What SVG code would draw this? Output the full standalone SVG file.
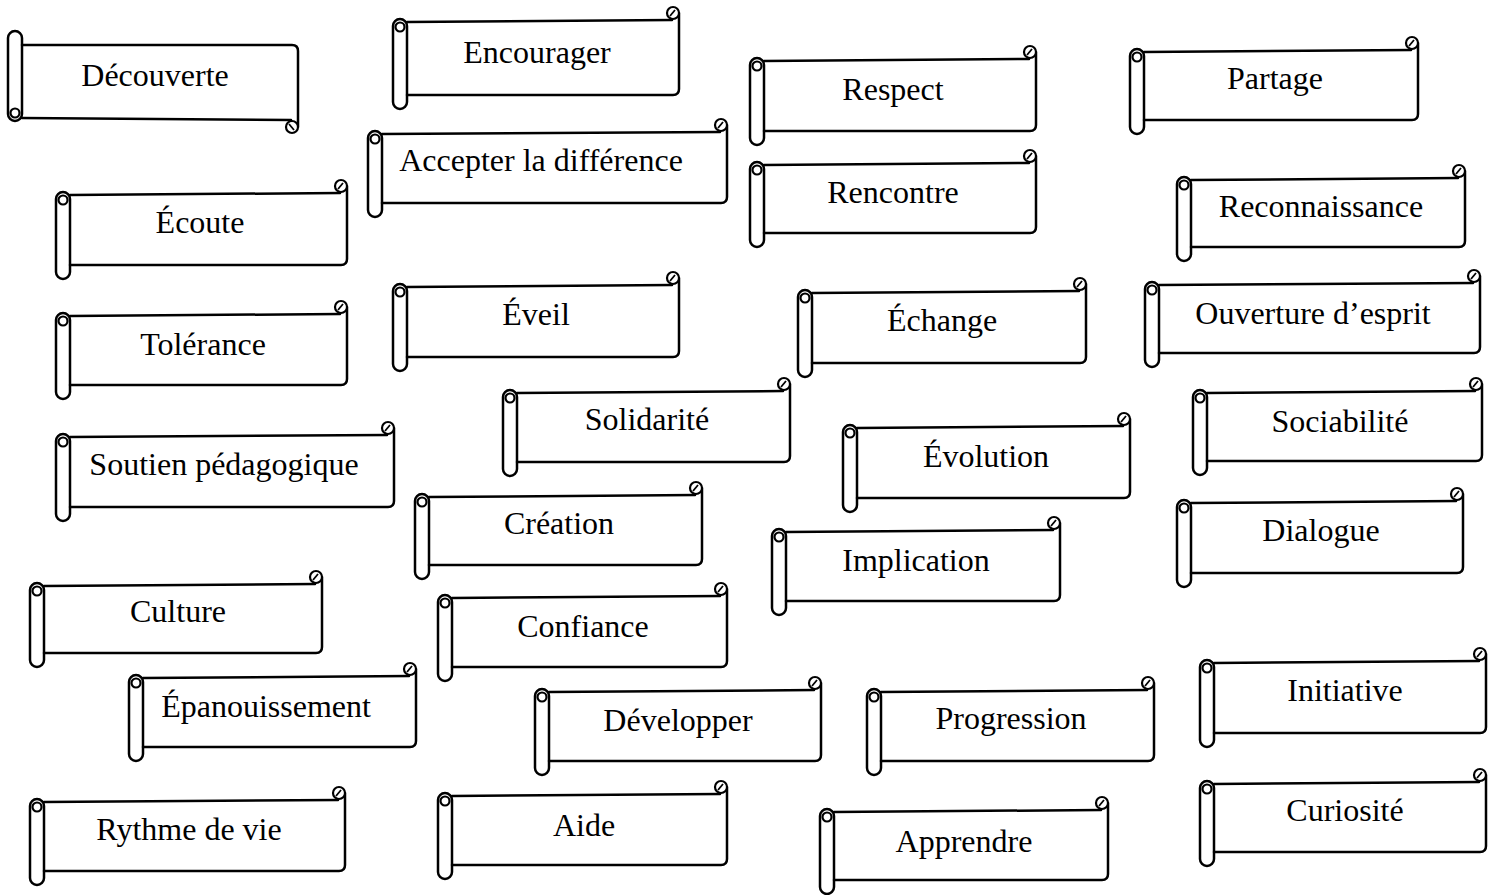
<svg xmlns="http://www.w3.org/2000/svg" width="1498" height="895" viewBox="0 0 1498 895">
<style>
.t{fill:#fff;stroke:#000;stroke-width:2.5}
.c{fill:#fff;stroke:#000;stroke-width:2.2}
.s{fill:none;stroke:#000;stroke-width:2.5;stroke-linecap:round;stroke-linejoin:round}
.k{fill:none;stroke:#000;stroke-width:1.8}
text{font-family:"Liberation Serif","Times New Roman",serif;font-size:32px;fill:#000;text-anchor:middle}
</style>
<rect width="1498" height="895" fill="#fff"/>
<g id="connectors"/>
<g id="n-decouverte"><g transform="translate(8,118) scale(1,-1)"><rect class="t" x="0" y="-3" width="14" height="90" rx="7"/><circle class="c" cx="7" cy="5" r="4.5"/><path class="s" d="M14,0 L283,-2 M290,-9 V67 Q290,73 284,73 H14"/><circle class="c" cx="284" cy="-9" r="6"/><path class="k" d="M281,-6 L286,-12"/></g><text x="155" y="86">Découverte</text></g>
<g id="n-encourager"><g transform="translate(393,22)"><rect class="t" x="0" y="-3" width="14" height="90" rx="7"/><circle class="c" cx="7" cy="5" r="4.5"/><path class="s" d="M14,0 L279,-2 M286,-9 V67 Q286,73 280,73 H14"/><circle class="c" cx="280" cy="-9" r="6"/><path class="k" d="M277,-6 L282,-12"/></g><text x="537" y="63">Encourager</text></g>
<g id="n-respect"><g transform="translate(750,61)"><rect class="t" x="0" y="-3" width="14" height="87" rx="7"/><circle class="c" cx="7" cy="5" r="4.5"/><path class="s" d="M14,0 L279,-2 M286,-9 V64 Q286,70 280,70 H14"/><circle class="c" cx="280" cy="-9" r="6"/><path class="k" d="M277,-6 L282,-12"/></g><text x="893" y="100">Respect</text></g>
<g id="n-partage"><g transform="translate(1130,52)"><rect class="t" x="0" y="-3" width="14" height="85" rx="7"/><circle class="c" cx="7" cy="5" r="4.5"/><path class="s" d="M14,0 L281,-2 M288,-9 V62 Q288,68 282,68 H14"/><circle class="c" cx="282" cy="-9" r="6"/><path class="k" d="M279,-6 L284,-12"/></g><text x="1275" y="89">Partage</text></g>
<g id="n-accepter"><g transform="translate(368,134)"><rect class="t" x="0" y="-3" width="14" height="86" rx="7"/><circle class="c" cx="7" cy="5" r="4.5"/><path class="s" d="M14,0 L352,-2 M359,-9 V63 Q359,69 353,69 H14"/><circle class="c" cx="353" cy="-9" r="6"/><path class="k" d="M350,-6 L355,-12"/></g><text x="541" y="171">Accepter la différence</text></g>
<g id="n-rencontre"><g transform="translate(750,165)"><rect class="t" x="0" y="-3" width="14" height="85" rx="7"/><circle class="c" cx="7" cy="5" r="4.5"/><path class="s" d="M14,0 L279,-2 M286,-9 V62 Q286,68 280,68 H14"/><circle class="c" cx="280" cy="-9" r="6"/><path class="k" d="M277,-6 L282,-12"/></g><text x="893" y="203">Rencontre</text></g>
<g id="n-reconnaissance"><g transform="translate(1177,180)"><rect class="t" x="0" y="-3" width="14" height="84" rx="7"/><circle class="c" cx="7" cy="5" r="4.5"/><path class="s" d="M14,0 L281,-2 M288,-9 V61 Q288,67 282,67 H14"/><circle class="c" cx="282" cy="-9" r="6"/><path class="k" d="M279,-6 L284,-12"/></g><text x="1321" y="217">Reconnaissance</text></g>
<g id="n-ecoute"><g transform="translate(56,195)"><rect class="t" x="0" y="-3" width="14" height="87" rx="7"/><circle class="c" cx="7" cy="5" r="4.5"/><path class="s" d="M14,0 L284,-2 M291,-9 V64 Q291,70 285,70 H14"/><circle class="c" cx="285" cy="-9" r="6"/><path class="k" d="M282,-6 L287,-12"/></g><text x="200" y="233">Écoute</text></g>
<g id="n-tolerance"><g transform="translate(56,316)"><rect class="t" x="0" y="-3" width="14" height="86" rx="7"/><circle class="c" cx="7" cy="5" r="4.5"/><path class="s" d="M14,0 L284,-2 M291,-9 V63 Q291,69 285,69 H14"/><circle class="c" cx="285" cy="-9" r="6"/><path class="k" d="M282,-6 L287,-12"/></g><text x="203" y="355">Tolérance</text></g>
<g id="n-eveil"><g transform="translate(393,287)"><rect class="t" x="0" y="-3" width="14" height="87" rx="7"/><circle class="c" cx="7" cy="5" r="4.5"/><path class="s" d="M14,0 L279,-2 M286,-9 V64 Q286,70 280,70 H14"/><circle class="c" cx="280" cy="-9" r="6"/><path class="k" d="M277,-6 L282,-12"/></g><text x="536" y="325">Éveil</text></g>
<g id="n-echange"><g transform="translate(798,293)"><rect class="t" x="0" y="-3" width="14" height="87" rx="7"/><circle class="c" cx="7" cy="5" r="4.5"/><path class="s" d="M14,0 L281,-2 M288,-9 V64 Q288,70 282,70 H14"/><circle class="c" cx="282" cy="-9" r="6"/><path class="k" d="M279,-6 L284,-12"/></g><text x="942" y="331">Échange</text></g>
<g id="n-ouverture"><g transform="translate(1145,285)"><rect class="t" x="0" y="-3" width="14" height="85" rx="7"/><circle class="c" cx="7" cy="5" r="4.5"/><path class="s" d="M14,0 L328,-2 M335,-9 V62 Q335,68 329,68 H14"/><circle class="c" cx="329" cy="-9" r="6"/><path class="k" d="M326,-6 L331,-12"/></g><text x="1313" y="324">Ouverture d’esprit</text></g>
<g id="n-solidarite"><g transform="translate(503,393)"><rect class="t" x="0" y="-3" width="14" height="86" rx="7"/><circle class="c" cx="7" cy="5" r="4.5"/><path class="s" d="M14,0 L280,-2 M287,-9 V63 Q287,69 281,69 H14"/><circle class="c" cx="281" cy="-9" r="6"/><path class="k" d="M278,-6 L283,-12"/></g><text x="647" y="430">Solidarité</text></g>
<g id="n-sociabilite"><g transform="translate(1193,393)"><rect class="t" x="0" y="-3" width="14" height="85" rx="7"/><circle class="c" cx="7" cy="5" r="4.5"/><path class="s" d="M14,0 L282,-2 M289,-9 V62 Q289,68 283,68 H14"/><circle class="c" cx="283" cy="-9" r="6"/><path class="k" d="M280,-6 L285,-12"/></g><text x="1340" y="432">Sociabilité</text></g>
<g id="n-evolution"><g transform="translate(843,428)"><rect class="t" x="0" y="-3" width="14" height="87" rx="7"/><circle class="c" cx="7" cy="5" r="4.5"/><path class="s" d="M14,0 L280,-2 M287,-9 V64 Q287,70 281,70 H14"/><circle class="c" cx="281" cy="-9" r="6"/><path class="k" d="M278,-6 L283,-12"/></g><text x="986" y="467">Évolution</text></g>
<g id="n-soutien"><g transform="translate(56,437)"><rect class="t" x="0" y="-3" width="14" height="87" rx="7"/><circle class="c" cx="7" cy="5" r="4.5"/><path class="s" d="M14,0 L331,-2 M338,-9 V64 Q338,70 332,70 H14"/><circle class="c" cx="332" cy="-9" r="6"/><path class="k" d="M329,-6 L334,-12"/></g><text x="224" y="475">Soutien pédagogique</text></g>
<g id="n-creation"><g transform="translate(415,497)"><rect class="t" x="0" y="-3" width="14" height="85" rx="7"/><circle class="c" cx="7" cy="5" r="4.5"/><path class="s" d="M14,0 L280,-2 M287,-9 V62 Q287,68 281,68 H14"/><circle class="c" cx="281" cy="-9" r="6"/><path class="k" d="M278,-6 L283,-12"/></g><text x="559" y="534">Création</text></g>
<g id="n-dialogue"><g transform="translate(1177,503)"><rect class="t" x="0" y="-3" width="14" height="87" rx="7"/><circle class="c" cx="7" cy="5" r="4.5"/><path class="s" d="M14,0 L279,-2 M286,-9 V64 Q286,70 280,70 H14"/><circle class="c" cx="280" cy="-9" r="6"/><path class="k" d="M277,-6 L282,-12"/></g><text x="1321" y="541">Dialogue</text></g>
<g id="n-implication"><g transform="translate(772,532)"><rect class="t" x="0" y="-3" width="14" height="86" rx="7"/><circle class="c" cx="7" cy="5" r="4.5"/><path class="s" d="M14,0 L281,-2 M288,-9 V63 Q288,69 282,69 H14"/><circle class="c" cx="282" cy="-9" r="6"/><path class="k" d="M279,-6 L284,-12"/></g><text x="916" y="571">Implication</text></g>
<g id="n-culture"><g transform="translate(30,586)"><rect class="t" x="0" y="-3" width="14" height="84" rx="7"/><circle class="c" cx="7" cy="5" r="4.5"/><path class="s" d="M14,0 L285,-2 M292,-9 V61 Q292,67 286,67 H14"/><circle class="c" cx="286" cy="-9" r="6"/><path class="k" d="M283,-6 L288,-12"/></g><text x="178" y="622">Culture</text></g>
<g id="n-confiance"><g transform="translate(438,598)"><rect class="t" x="0" y="-3" width="14" height="86" rx="7"/><circle class="c" cx="7" cy="5" r="4.5"/><path class="s" d="M14,0 L282,-2 M289,-9 V63 Q289,69 283,69 H14"/><circle class="c" cx="283" cy="-9" r="6"/><path class="k" d="M280,-6 L285,-12"/></g><text x="583" y="637">Confiance</text></g>
<g id="n-epanouissement"><g transform="translate(129,678)"><rect class="t" x="0" y="-3" width="14" height="86" rx="7"/><circle class="c" cx="7" cy="5" r="4.5"/><path class="s" d="M14,0 L280,-2 M287,-9 V63 Q287,69 281,69 H14"/><circle class="c" cx="281" cy="-9" r="6"/><path class="k" d="M278,-6 L283,-12"/></g><text x="266" y="717">Épanouissement</text></g>
<g id="n-developper"><g transform="translate(535,692)"><rect class="t" x="0" y="-3" width="14" height="86" rx="7"/><circle class="c" cx="7" cy="5" r="4.5"/><path class="s" d="M14,0 L279,-2 M286,-9 V63 Q286,69 280,69 H14"/><circle class="c" cx="280" cy="-9" r="6"/><path class="k" d="M277,-6 L282,-12"/></g><text x="678" y="731">Développer</text></g>
<g id="n-progression"><g transform="translate(867,692)"><rect class="t" x="0" y="-3" width="14" height="86" rx="7"/><circle class="c" cx="7" cy="5" r="4.5"/><path class="s" d="M14,0 L280,-2 M287,-9 V63 Q287,69 281,69 H14"/><circle class="c" cx="281" cy="-9" r="6"/><path class="k" d="M278,-6 L283,-12"/></g><text x="1011" y="729">Progression</text></g>
<g id="n-initiative"><g transform="translate(1200,663)"><rect class="t" x="0" y="-3" width="14" height="87" rx="7"/><circle class="c" cx="7" cy="5" r="4.5"/><path class="s" d="M14,0 L279,-2 M286,-9 V64 Q286,70 280,70 H14"/><circle class="c" cx="280" cy="-9" r="6"/><path class="k" d="M277,-6 L282,-12"/></g><text x="1345" y="701">Initiative</text></g>
<g id="n-rythme"><g transform="translate(30,802)"><rect class="t" x="0" y="-3" width="14" height="86" rx="7"/><circle class="c" cx="7" cy="5" r="4.5"/><path class="s" d="M14,0 L308,-2 M315,-9 V63 Q315,69 309,69 H14"/><circle class="c" cx="309" cy="-9" r="6"/><path class="k" d="M306,-6 L311,-12"/></g><text x="189" y="840">Rythme de vie</text></g>
<g id="n-aide"><g transform="translate(438,796)"><rect class="t" x="0" y="-3" width="14" height="86" rx="7"/><circle class="c" cx="7" cy="5" r="4.5"/><path class="s" d="M14,0 L282,-2 M289,-9 V63 Q289,69 283,69 H14"/><circle class="c" cx="283" cy="-9" r="6"/><path class="k" d="M280,-6 L285,-12"/></g><text x="584" y="836">Aide</text></g>
<g id="n-apprendre"><g transform="translate(820,812)"><rect class="t" x="0" y="-3" width="14" height="85" rx="7"/><circle class="c" cx="7" cy="5" r="4.5"/><path class="s" d="M14,0 L281,-2 M288,-9 V62 Q288,68 282,68 H14"/><circle class="c" cx="282" cy="-9" r="6"/><path class="k" d="M279,-6 L284,-12"/></g><text x="964" y="852">Apprendre</text></g>
<g id="n-curiosite"><g transform="translate(1200,784)"><rect class="t" x="0" y="-3" width="14" height="85" rx="7"/><circle class="c" cx="7" cy="5" r="4.5"/><path class="s" d="M14,0 L279,-2 M286,-9 V62 Q286,68 280,68 H14"/><circle class="c" cx="280" cy="-9" r="6"/><path class="k" d="M277,-6 L282,-12"/></g><text x="1345" y="821">Curiosité</text></g>
</svg>
